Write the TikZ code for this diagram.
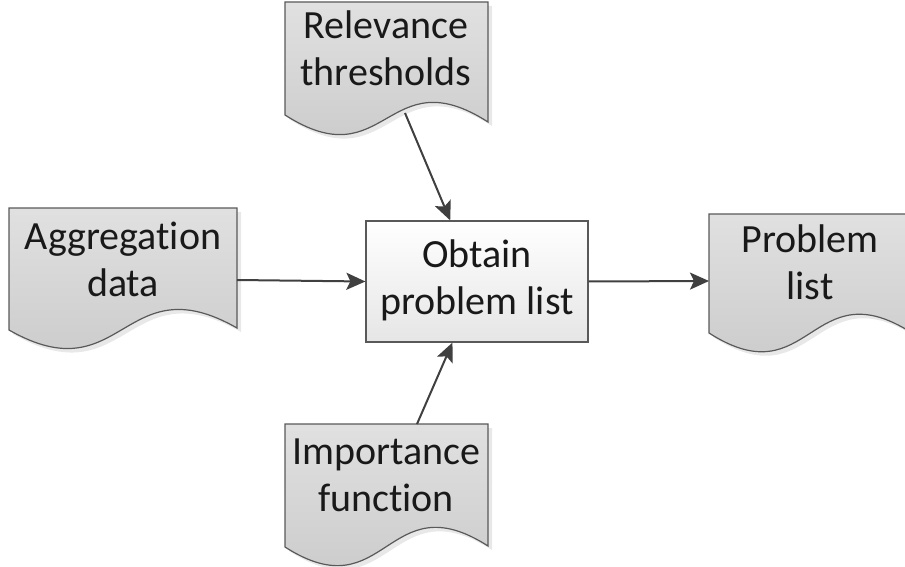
\documentclass[tikz,border=0pt]{standalone}
\usepackage{fontspec}
\setmainfont{Carlito}[RawFeature=-liga]
\usetikzlibrary{arrows.meta,calc}

\tikzset{
  docfill/.style={draw=black!65, line width=1.2pt, top color=black!12, bottom color=black!22},
  docshadow/.style={fill=black!9},
  doctext/.style={align=center, inner sep=0pt, text=black!90},
  procbox/.style={draw=black!65, line width=1.2pt, top color=white, bottom color=black!10,
    minimum width=222pt, minimum height=121pt, align=center, inner sep=0pt, text=black!90},
  flow/.style={draw=black!75, line width=2pt, -{Stealth[length=19pt,width=17pt,inset=4pt]}}
}

% document symbol: left, top, width, bottom left, bottom right
\newcommand\docshape[5]{%
  \fill[docshadow,shift={(4,4)}] (#1,#2) -- ++(#3,0) -- (#1+#3,#5)
    .. controls (#1+0.5*#3,#5-65) and (#1+0.5*#3,#4+65) .. (#1,#4) -- cycle;
  \draw[docfill] (#1,#2) -- ++(#3,0) -- (#1+#3,#5)
    .. controls (#1+0.5*#3,#5-65) and (#1+0.5*#3,#4+65) .. (#1,#4) -- cycle;
}

\begin{document}
\begin{tikzpicture}[x=1pt,y=-1pt,font=\fontsize{40}{47}\selectfont]
	\useasboundingbox (0,0) rectangle (905,567);
	%Documents
	\docshape{9}{208}{228}{330}{328}
	\docshape{285}{2}{203}{115}{122}
	\docshape{285}{424}{203}{547}{546}
	\docshape{709}{214}{203}{333}{333}
	\node[doctext] (agg) at (123,263.6) {\strut Aggregation\\\strut data};
	\node[doctext] (rel) at (386,52.6) {\strut Relevance\\\strut thresholds};
	\node[doctext] (imp) at (386,479) {\strut Importance\\\strut function};
	\node[doctext] (plist) at (810,267) {\strut Problem\\\strut list};
	%Process
	\node[procbox] (obtain) at (477,281.5) {\strut Obtain\\\strut problem list};
	%Connectors
	\coordinate (relbot) at (405,113);
	\coordinate (imptop) at (417,424);
	\coordinate (aggright) at (237,280);
	\coordinate (plistleft) at (709,281);
	\draw[flow] (relbot) -- ($(obtain.north west)!0.38!(obtain.north east)$);
	\draw[flow] (imptop) -- ($(obtain.south west)!0.39!(obtain.south east)$);
	\draw[flow] (aggright) -- (obtain.west);
	\draw[flow] (obtain.east) -- (plistleft);
\end{tikzpicture}
\end{document}
